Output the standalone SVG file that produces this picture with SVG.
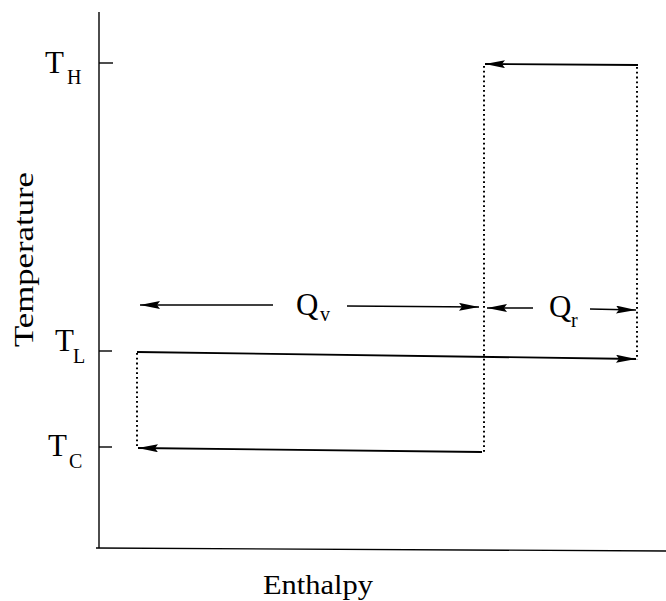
<svg xmlns="http://www.w3.org/2000/svg" width="666" height="601" viewBox="0 0 666 601">
<style>
.ax{stroke:#000;stroke-width:1.4;fill:none}
.ln{stroke:#000;stroke-width:1.8;fill:none}
.dm{stroke:#000;stroke-width:1.5;fill:none}
.dot{stroke:#000;stroke-width:2;fill:none;stroke-dasharray:1.8 3}
.t{font-family:"Liberation Serif","DejaVu Serif",serif;fill:#000}
.big{font-size:31px}
.sub{font-size:20px}
</style>
<defs>
<marker id="ah" viewBox="0 0 20 8" refX="20" refY="4" markerWidth="20" markerHeight="8" markerUnits="userSpaceOnUse" orient="auto">
<path d="M0,0 L20,4 L0,8 L3,4 Z" fill="#000"/>
</marker>
</defs>
<g id="axes">
<line class="ax" x1="99" y1="12" x2="99" y2="548"/>
<line class="ax" x1="96" y1="548" x2="666" y2="551"/>
<line class="ax" x1="99" y1="63" x2="113" y2="63"/>
<line class="ax" x1="99" y1="351" x2="112" y2="351"/>
<line class="ax" x1="99" y1="447" x2="112" y2="447"/>
</g>
<g id="labels">
<text class="t big" x="45" y="73">T</text>
<text class="t sub" x="67" y="84">H</text>
<text class="t big" x="55" y="351">T</text>
<text class="t sub" x="73" y="363">L</text>
<text class="t big" x="48" y="456">T</text>
<text class="t sub" x="69" y="468">C</text>
<text class="t" style="font-size:28px" transform="translate(33,347) rotate(-90)" textLength="175" lengthAdjust="spacingAndGlyphs">Temperature</text>
<text class="t" style="font-size:28px" x="263" y="594" textLength="110" lengthAdjust="spacingAndGlyphs">Enthalpy</text>
</g>
<g id="connectors">
<line class="ln" x1="638" y1="65" x2="485" y2="64" marker-end="url(#ah)"/>
<line class="dot" x1="484" y1="66" x2="484" y2="452"/>
<line class="dot" x1="637" y1="67" x2="637" y2="360"/>
<line class="ln" x1="137" y1="352" x2="636" y2="359" marker-end="url(#ah)"/>
<line class="dot" x1="137" y1="353" x2="137" y2="448"/>
<line class="ln" x1="482" y1="452" x2="138" y2="448" marker-end="url(#ah)"/>
</g>
<g id="Qv">
<line class="dm" x1="273" y1="305" x2="140" y2="305" marker-end="url(#ah)"/>
<line class="dm" x1="347" y1="306" x2="479" y2="307" marker-end="url(#ah)"/>
<text class="t big" x="296" y="315">Q</text>
<text class="t sub" x="320" y="321">v</text>
</g>
<g id="Qr">
<line class="dm" x1="533" y1="308" x2="487" y2="308" marker-end="url(#ah)"/>
<line class="dm" x1="590" y1="309" x2="636" y2="310" marker-end="url(#ah)"/>
<text class="t big" x="549" y="317">Q</text>
<text class="t sub" x="571" y="327">r</text>
</g>
</svg>
